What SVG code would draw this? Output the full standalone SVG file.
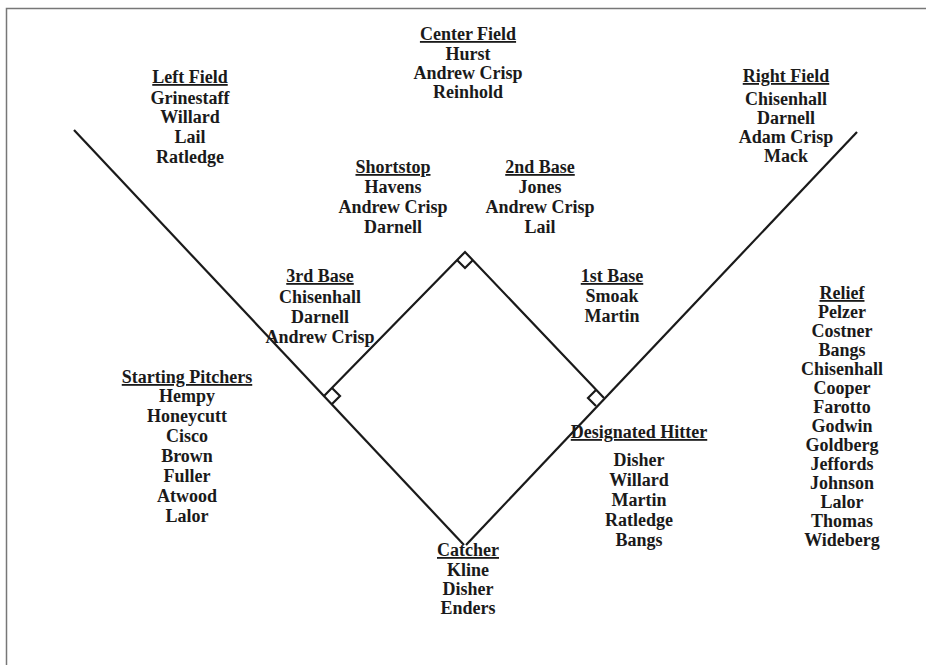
<svg xmlns="http://www.w3.org/2000/svg" width="926" height="665" viewBox="0 0 926 665">
<style>
text{font-family:"Liberation Serif","Times New Roman",serif;font-weight:bold;font-size:18px;fill:#1a1a1a;text-anchor:middle}
.h{text-decoration:underline}
.ln{stroke:#1a1a1a;stroke-width:2.2;fill:none}
.fr{stroke:#777;stroke-width:1.5;fill:none}
</style>
<rect width="926" height="665" fill="#fff"/>
<path class="fr" d="M6.5 665V8.5H926"/>
<g id="connectors">
<path class="ln" d="M74 130L464 545"/>
<path class="ln" d="M857 132L466 545"/>
<path class="ln" d="M324 396L465 252L604 398"/>
<path class="ln" d="M457 260L465 268L473 260"/>
<path class="ln" d="M332 388L340 396L332 404"/>
<path class="ln" d="M596 390L588 398L596 406"/>
</g>
<g id="center-field"><text x="468" y="40" class="h">Center Field</text><text x="468" y="60">Hurst</text><text x="468" y="79">Andrew Crisp</text><text x="468" y="98">Reinhold</text></g>
<g id="left-field"><text x="190" y="83" class="h">Left Field</text><text x="190" y="104">Grinestaff</text><text x="190" y="123">Willard</text><text x="190" y="143">Lail</text><text x="190" y="163">Ratledge</text></g>
<g id="right-field"><text x="786" y="82" class="h">Right Field</text><text x="786" y="105">Chisenhall</text><text x="786" y="124">Darnell</text><text x="786" y="143">Adam Crisp</text><text x="786" y="162">Mack</text></g>
<g id="shortstop"><text x="393" y="173" class="h">Shortstop</text><text x="393" y="193">Havens</text><text x="393" y="213">Andrew Crisp</text><text x="393" y="233">Darnell</text></g>
<g id="second-base"><text x="540" y="173" class="h">2nd Base</text><text x="540" y="193">Jones</text><text x="540" y="213">Andrew Crisp</text><text x="540" y="233">Lail</text></g>
<g id="third-base"><text x="320" y="282" class="h">3rd Base</text><text x="320" y="303">Chisenhall</text><text x="320" y="323">Darnell</text><text x="320" y="343">Andrew Crisp</text></g>
<g id="first-base"><text x="612" y="282" class="h">1st Base</text><text x="612" y="302">Smoak</text><text x="612" y="322">Martin</text></g>
<g id="starting-pitchers"><text x="187" y="383" class="h">Starting Pitchers</text><text x="187" y="402">Hempy</text><text x="187" y="422">Honeycutt</text><text x="187" y="442">Cisco</text><text x="187" y="462">Brown</text><text x="187" y="482">Fuller</text><text x="187" y="502">Atwood</text><text x="187" y="522">Lalor</text></g>
<g id="designated-hitter"><text x="639" y="438" class="h">Designated Hitter</text><text x="639" y="466">Disher</text><text x="639" y="486">Willard</text><text x="639" y="506">Martin</text><text x="639" y="526">Ratledge</text><text x="639" y="546">Bangs</text></g>
<g id="catcher"><text x="468" y="556" class="h">Catcher</text><text x="468" y="576">Kline</text><text x="468" y="595">Disher</text><text x="468" y="614">Enders</text></g>
<g id="relief"><text x="842" y="299" class="h">Relief</text><text x="842" y="318">Pelzer</text><text x="842" y="337">Costner</text><text x="842" y="356">Bangs</text><text x="842" y="375">Chisenhall</text><text x="842" y="394">Cooper</text><text x="842" y="413">Farotto</text><text x="842" y="432">Godwin</text><text x="842" y="451">Goldberg</text><text x="842" y="470">Jeffords</text><text x="842" y="489">Johnson</text><text x="842" y="508">Lalor</text><text x="842" y="527">Thomas</text><text x="842" y="546">Wideberg</text></g>
</svg>
